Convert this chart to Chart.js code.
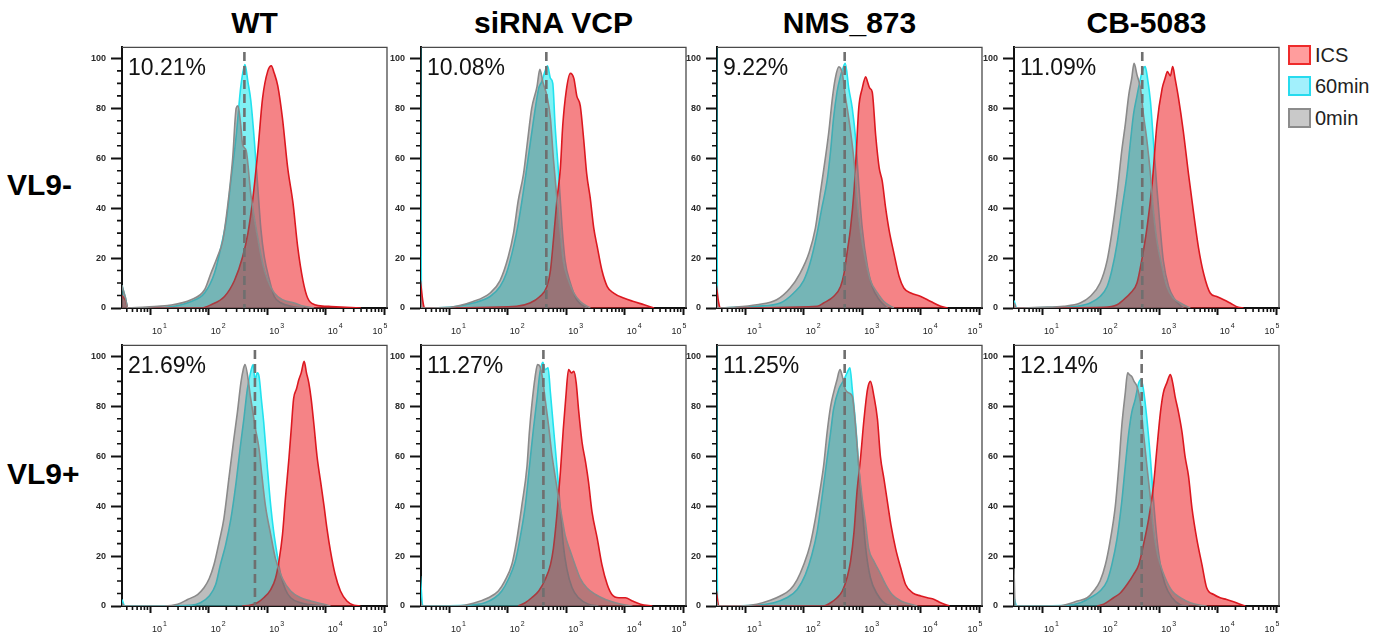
<!DOCTYPE html>
<html><head><meta charset="utf-8">
<script src="https://cdn.jsdelivr.net/npm/chart.js@4.4.0/dist/chart.umd.min.js"></script>
<style>
body{margin:0;background:#fff;width:1389px;height:633px;overflow:hidden;position:relative;font-family:"Liberation Sans",Arial,sans-serif;}
canvas{position:absolute;}
.title{position:absolute;font-weight:bold;font-size:30px;line-height:30px;text-align:center;color:#000;white-space:nowrap;}
.rowlab{position:absolute;font-weight:bold;font-size:30px;line-height:30px;color:#000;white-space:nowrap;}
.leg{position:absolute;left:1288px;font-size:20px;line-height:20px;color:#222;white-space:nowrap;}
.leg span.sw{position:absolute;left:0;top:0;width:19px;height:16px;border:2px solid;}
.leg span.tx{position:absolute;left:27px;top:0;}
</style></head><body>
<script>
// ---------- labels ----------
const conditions = ['WT', 'siRNA VCP', 'NMS_873', 'CB-5083'];
const rowLabels = ['VL9-', 'VL9+'];
const seriesNames = ['ICS', '60min', '0min'];
const percents = [['10.21%', '10.08%', '9.22%', '11.09%'], ['21.69%', '11.27%', '11.25%', '12.14%']];
const markerLog = [[2.61, 2.66, 2.70, 2.71], [2.79, 2.61, 2.70, 2.70]];
const xTickExponents = [1, 2, 3, 4, 5];
const yTicks = [0, 20, 40, 60, 80, 100];

// ---------- histograms: [log10 intensity, % of max] ----------
// VL9- / WT
const negWT_ICS = [[0.52,5],[0.58,3],[0.62,0],[1.87,0],[2.04,1.3],[2.27,4.6],[2.44,11],[2.58,20.5],[2.67,30],[2.75,43],[2.84,63],[2.92,84],[3.01,95],[3.07,97],[3.12,94],[3.18,89],[3.26,76],[3.35,56],[3.44,42],[3.52,24.5],[3.61,11],[3.69,4],[3.81,1.3],[3.98,0.7],[4.09,0.6],[4.6,0]];
const negWT_60 = [[0.52,9],[0.58,4],[0.62,0],[1.07,0],[1.41,0.7],[1.70,2.6],[1.93,6],[2.10,14],[2.21,24.5],[2.30,35],[2.38,51],[2.47,69],[2.55,89],[2.62,97.5],[2.67,90.6],[2.72,83],[2.78,67],[2.84,48],[2.89,32],[2.95,20.5],[3.04,11],[3.12,4.6],[3.24,2],[3.41,0.7],[3.63,0]];
const negWT_0 = [[0.52,9],[0.58,4],[0.62,0],[1.13,0.7],[1.30,1],[1.70,3.3],[1.93,7.3],[2.04,14],[2.15,20.5],[2.24,27],[2.32,40],[2.41,60],[2.47,80],[2.50,81],[2.54,75],[2.58,65.5],[2.64,63],[2.72,45.6],[2.78,36],[2.84,28],[2.92,18],[3.01,11],[3.12,6],[3.26,3.3],[3.46,2],[3.63,0.7],[3.8,0]];
// VL9- / siRNA VCP
const negSi_ICS = [[0.51,11],[0.55,3],[0.58,0],[2.15,0.7],[2.38,2],[2.55,4.6],[2.67,8.6],[2.73,15],[2.78,27],[2.84,43],[2.90,56],[2.94,73],[3.00,87],[3.07,94],[3.13,92],[3.18,85],[3.24,81],[3.30,67],[3.35,53.6],[3.41,44],[3.47,32],[3.53,24.5],[3.61,15],[3.70,8.6],[3.81,6],[3.98,4],[4.15,2.6],[4.33,1.3],[4.50,0]];
const negSi_60 = [[0.51,110],[0.53,0],[1.01,0.3],[1.41,2],[1.70,4.6],[1.87,8.6],[1.98,14],[2.10,24.5],[2.18,33.7],[2.27,47],[2.35,60],[2.44,75],[2.53,88],[2.58,90.6],[2.64,95],[2.68,97],[2.73,92],[2.77,90],[2.81,73],[2.87,53.6],[2.93,32],[2.98,19],[3.07,10],[3.18,3.3],[3.35,0]];
const negSi_0 = [[0.51,3],[0.53,0],[1.01,0.3],[1.41,2.6],[1.70,6],[1.87,11],[2.01,20.5],[2.10,30],[2.18,43],[2.27,53.6],[2.34,67],[2.41,80],[2.50,88.6],[2.55,95.6],[2.60,90.6],[2.67,85],[2.73,76],[2.78,60],[2.84,44],[2.90,30],[2.95,19],[3.04,11],[3.13,6],[3.24,2.6],[3.41,0]];
// VL9- / NMS_873
const negNMS_ICS = [[0.51,9],[0.55,2],[0.58,0],[2.23,0.7],[2.34,2],[2.51,4.6],[2.63,8.6],[2.69,14],[2.74,22],[2.80,32],[2.86,47],[2.90,63],[2.94,80],[3.00,88],[3.06,92.6],[3.09,90.6],[3.13,88],[3.17,86.6],[3.23,69],[3.29,56],[3.34,51],[3.40,40],[3.46,31],[3.54,22],[3.63,12.6],[3.71,8],[3.83,6],[4.00,4.6],[4.17,2.6],[4.34,0.7],[4.46,0]];
const negNMS_60 = [[0.51,110],[0.53,0],[0.91,0.3],[1.20,0.7],[1.60,2],[1.83,6],[2.00,11],[2.11,18],[2.23,30],[2.31,40],[2.40,51],[2.46,63],[2.51,76],[2.57,86.6],[2.63,93],[2.67,96],[2.71,98],[2.77,88],[2.83,80],[2.89,67],[2.94,49.6],[3.00,32],[3.09,16.5],[3.17,8.6],[3.29,3.3],[3.43,0]];
const negNMS_0 = [[0.51,3],[0.53,0],[0.80,0.3],[1.20,1.3],[1.54,3.3],[1.77,8],[1.94,14],[2.09,22],[2.20,32],[2.29,47],[2.37,60],[2.43,70.7],[2.49,84],[2.54,92],[2.60,96.6],[2.66,94],[2.71,85],[2.77,76],[2.86,58.8],[2.91,44],[2.97,31],[3.06,19],[3.14,11],[3.26,6],[3.37,2.6],[3.54,0]];
// VL9- / CB-5083
const negCB_ICS = [[0.52,2],[0.55,0],[2.05,0.3],[2.28,1.3],[2.39,3.3],[2.51,6],[2.62,10],[2.70,19],[2.79,32],[2.88,50],[2.96,73.5],[3.05,88],[3.10,92],[3.14,94.7],[3.19,93],[3.23,96.7],[3.27,92],[3.33,84],[3.41,71],[3.50,53.6],[3.59,37.5],[3.67,24.2],[3.76,13.6],[3.87,6],[3.98,4.6],[4.10,3.3],[4.21,2],[4.35,0.3],[4.44,0]];
const negCB_60 = [[0.52,3],[0.57,0],[1.26,0.3],[1.60,0.7],[1.82,2],[1.99,4.6],[2.11,8.6],[2.19,15],[2.28,25.8],[2.36,39],[2.45,53.6],[2.51,67],[2.56,77.5],[2.62,85],[2.68,92],[2.72,95.4],[2.76,96.7],[2.80,92],[2.85,82.8],[2.90,67],[2.96,48],[3.02,31],[3.07,19],[3.16,8.6],[3.27,3.3],[3.41,0]];
const negCB_0 = [[0.52,2],[0.55,0],[0.97,0.3],[1.37,0.7],[1.65,2],[1.82,4.6],[1.99,10],[2.11,19],[2.19,30],[2.28,45.7],[2.36,63],[2.42,73.5],[2.48,85.4],[2.53,92],[2.57,98],[2.62,93.4],[2.68,88],[2.73,77.5],[2.79,67],[2.85,53.6],[2.90,39],[2.96,27],[3.05,16.3],[3.13,8.6],[3.24,4],[3.36,2],[3.53,0]];
// VL9+ / WT
const posWT_ICS = [[2.57,0],[2.72,0.4],[2.83,1.3],[2.94,3.3],[3.06,6.6],[3.14,11],[3.20,18],[3.26,28.5],[3.31,43],[3.37,59],[3.41,71],[3.45,83],[3.50,87],[3.54,90.7],[3.58,93.4],[3.63,98],[3.67,93.4],[3.71,89.4],[3.75,83],[3.80,72],[3.85,60],[3.91,50],[3.97,40],[4.02,31],[4.08,22],[4.16,12.6],[4.25,6],[4.36,2],[4.48,0.3],[4.59,0]];
const posWT_60 = [[0.52,2.6],[0.57,0],[1.69,0.3],[1.86,1.3],[2.01,4],[2.12,8.6],[2.20,16.5],[2.29,24.5],[2.38,35],[2.46,48],[2.55,65.6],[2.60,74.8],[2.66,86.8],[2.72,94],[2.76,96.7],[2.79,90.7],[2.83,93.4],[2.86,92],[2.90,82.8],[2.94,73.5],[3.00,56],[3.06,40],[3.11,29.8],[3.17,20.5],[3.23,12.6],[3.31,6.6],[3.40,3.3],[3.57,1.3],[3.97,0]];
const posWT_0 = [[0.52,1],[0.56,0],[1.24,0],[1.47,0.7],[1.64,2.6],[1.81,4.6],[1.92,7.3],[2.01,11],[2.09,16.5],[2.18,25.8],[2.26,35],[2.35,52],[2.43,67],[2.49,77.5],[2.55,89.4],[2.59,94.7],[2.62,96.7],[2.72,82.8],[2.80,70.9],[2.86,63],[2.91,52],[2.97,40],[3.06,28.5],[3.14,19],[3.26,11],[3.40,6],[3.57,3.3],[3.74,2],[3.97,0.7],[4.08,0]];
// VL9+ / siRNA VCP
const posSi_ICS = [[2.18,0],[2.30,1.3],[2.41,3.3],[2.53,6],[2.64,10.6],[2.73,16.5],[2.78,23],[2.84,36.4],[2.90,53.6],[2.95,71],[2.99,82.8],[3.04,94.7],[3.09,93.4],[3.13,94],[3.17,89.4],[3.21,78.8],[3.27,65.6],[3.33,57.6],[3.38,49.7],[3.44,37.7],[3.53,27],[3.61,16.5],[3.70,8.6],[3.78,4.6],[3.90,3.3],[4.01,3.3],[4.13,2],[4.27,0.7],[4.47,0]];
const posSi_60 = [[0.51,12],[0.55,0],[1.33,0.3],[1.61,1.3],[1.78,3.3],[1.90,6],[2.01,10.6],[2.13,17.9],[2.21,27],[2.30,40],[2.38,57.6],[2.44,71],[2.50,82.8],[2.55,93.4],[2.60,97.6],[2.64,94.7],[2.69,95.4],[2.73,85.4],[2.78,72],[2.84,56],[2.90,39],[2.95,24.5],[3.01,15],[3.10,7.3],[3.21,3.3],[3.38,0.7],[3.55,0]];
const posSi_0 = [[0.51,2],[0.54,0],[1.15,0],[1.44,1.3],[1.67,3.3],[1.84,6],[1.95,10],[2.07,16.5],[2.15,25.8],[2.24,40],[2.33,56],[2.37,69.5],[2.41,80],[2.47,92],[2.51,96.7],[2.55,96],[2.59,92],[2.64,82.8],[2.70,72],[2.75,61.6],[2.81,52],[2.87,43],[2.93,35],[2.98,28.5],[3.07,21.9],[3.15,16.5],[3.24,11],[3.35,7.3],[3.50,4.6],[3.67,2.6],[3.84,1.3],[4.01,0.4],[4.13,0]];
// VL9+ / NMS_873
const posNMS_ICS = [[0.51,6],[0.55,0],[2.34,0],[2.46,1.3],[2.57,3.3],[2.66,6],[2.74,11.3],[2.80,17.9],[2.86,29.8],[2.91,45.7],[2.97,59],[3.03,74.8],[3.09,86.8],[3.14,90],[3.20,84],[3.26,74.8],[3.31,60],[3.37,51],[3.43,41.7],[3.49,32.5],[3.57,23],[3.66,15],[3.74,8.6],[3.86,5.3],[4.00,4],[4.11,3.3],[4.23,2.6],[4.34,1.3],[4.49,0]];
const posNMS_60 = [[0.51,110],[0.53,0],[1.20,0.3],[1.49,1.3],[1.71,3.3],[1.89,6.6],[2.03,12.6],[2.14,20.5],[2.23,29.8],[2.31,43],[2.40,59],[2.46,69.5],[2.51,78.8],[2.60,86.8],[2.69,90.7],[2.74,93.4],[2.79,95.4],[2.83,86.8],[2.89,72],[2.94,56],[3.00,39],[3.06,23],[3.14,11.3],[3.26,4.6],[3.43,0.5],[3.60,0]];
const posNMS_0 = [[0.51,2],[0.54,0],[0.91,0],[1.20,0.7],[1.43,2.3],[1.60,4],[1.77,6.6],[1.89,10.6],[2.00,16.5],[2.11,24.5],[2.20,35],[2.29,48],[2.34,56],[2.40,69.5],[2.46,80],[2.51,85.4],[2.57,90.7],[2.62,94.7],[2.66,92],[2.71,86.8],[2.77,85.4],[2.83,84],[2.89,70.9],[2.94,56],[3.00,43],[3.06,32.5],[3.11,23],[3.20,17.9],[3.29,13.9],[3.40,8.6],[3.51,4.6],[3.66,2],[3.83,0.7],[3.94,0]];
// VL9+ / CB-5083
const posCB_ICS = [[1.94,0],[2.05,0.7],[2.22,3.3],[2.34,5.3],[2.45,8.6],[2.56,12.6],[2.65,16.5],[2.73,24.5],[2.82,35],[2.90,48],[2.96,63],[3.02,77.5],[3.07,85.4],[3.13,89.4],[3.19,92.7],[3.23,89.4],[3.27,84],[3.33,77.5],[3.39,69.5],[3.44,60],[3.50,52],[3.56,39],[3.64,27],[3.73,16.5],[3.81,7.3],[3.93,4.6],[4.04,3.3],[4.15,2.6],[4.27,1.7],[4.38,0.7],[4.47,0]];
const posCB_60 = [[0.52,3.3],[0.57,0],[1.43,0.3],[1.65,1.3],[1.82,3.3],[1.99,6],[2.11,10],[2.19,16.5],[2.28,27],[2.36,41.7],[2.42,56],[2.48,69.5],[2.53,77.5],[2.59,82.8],[2.65,89.4],[2.69,90.7],[2.73,86.8],[2.79,74.8],[2.85,59],[2.90,43],[2.96,27],[3.02,16.5],[3.10,8.6],[3.22,3.3],[3.36,0.5],[3.5,0]];
const posCB_0 = [[0.52,15],[0.54,0],[1.26,0],[1.43,0.7],[1.60,2],[1.77,3.3],[1.88,6],[1.99,10],[2.08,16.5],[2.16,25.8],[2.25,40],[2.31,56],[2.36,72],[2.42,85.4],[2.46,93.4],[2.49,92.7],[2.53,92],[2.57,90],[2.62,88],[2.68,81.5],[2.73,69.5],[2.79,56],[2.85,43],[2.90,31],[2.96,21.9],[3.02,16.5],[3.10,11.3],[3.22,6],[3.36,3.3],[3.53,1.3],[3.70,0.3],[3.81,0]];

const panelData = [
  [[negWT_ICS, negWT_60, negWT_0], [negSi_ICS, negSi_60, negSi_0], [negNMS_ICS, negNMS_60, negNMS_0], [negCB_ICS, negCB_60, negCB_0]],
  [[posWT_ICS, posWT_60, posWT_0], [posSi_ICS, posSi_60, posSi_0], [posNMS_ICS, posNMS_60, posNMS_0], [posCB_ICS, posCB_60, posCB_0]]
];

// ---------- styling / layout ----------
const FONT = '"Liberation Sans", Arial, Helvetica, sans-serif';
// order: higher = drawn earlier (below)
const seriesStyle = [
  {line: '#dc1820', fill: 'rgba(238,34,40,0.56)', order: 1, swFill: '#ff9d9d', swLine: '#ee2b2b'},
  {line: '#22e2ee', fill: 'rgba(0,228,234,0.5)', order: 2, swFill: '#a2f0fc', swLine: '#27dbee'},
  {line: '#8a8a8a', fill: 'rgba(105,105,105,0.44)', order: 0, swFill: '#c9c9c9', swLine: '#8c8c8c'}
];
const colLeft = [122, 421, 717, 1014];
const rowTop = [45, 343];
const PW = 265, PH = 263, YW = 40, PADT = 8, PADR = 12, XH = 30;
const X_MIN = 0.52, X_MAX = 5.045, Y_MAX = 104.4;

const panelPlugin = {
  id: 'panelDecor',
  afterDatasetsDraw(chart) {
    const {ctx, chartArea: a, scales: {x, y}} = chart;
    const o = chart.options.plugins.panelDecor;
    ctx.save();
    // dashed marker
    ctx.beginPath();
    ctx.setLineDash([9, 5]);
    ctx.lineWidth = 2.6;
    ctx.strokeStyle = '#6f6f6f';
    const mx = x.getPixelForValue(o.marker);
    ctx.moveTo(mx, y.getPixelForValue(102.6));
    ctx.lineTo(mx, y.getPixelForValue(0));
    ctx.stroke();
    ctx.setLineDash([]);
    // frame top/right
    ctx.strokeStyle = '#4a4a4a';
    ctx.lineWidth = 1.3;
    ctx.beginPath();
    ctx.moveTo(a.left, a.top); ctx.lineTo(a.right, a.top); ctx.lineTo(a.right, a.bottom);
    ctx.stroke();
    // minor ticks x
    ctx.strokeStyle = '#111';
    ctx.lineWidth = 1.6;
    ctx.beginPath();
    for (let k = 0; k < 5; k++) {
      for (let m = 2; m <= 9; m++) {
        const v = k + Math.log10(m);
        if (v < X_MIN || v > X_MAX) continue;
        const px = x.getPixelForValue(v);
        ctx.moveTo(px, a.bottom); ctx.lineTo(px, a.bottom + 4);
      }
    }
    // minor ticks y
    for (let v = 5; v < 100; v += 5) {
      if (v % 20 === 0) continue;
      const py = y.getPixelForValue(v);
      ctx.moveTo(a.left, py); ctx.lineTo(a.left - 5, py);
    }
    ctx.stroke();
    // x labels 10^k
    ctx.fillStyle = '#222';
    ctx.textBaseline = 'alphabetic';
    xTickExponents.forEach(k => {
      const px = x.getPixelForValue(k);
      ctx.font = '9px ' + FONT;
      const w10 = ctx.measureText('10').width;
      ctx.font = '7px ' + FONT;
      const we = ctx.measureText(String(k)).width;
      let sx = px + 2;
      if (k === 5) sx = px + 3 - (w10 + 1 + we);
      ctx.font = '9px ' + FONT;
      ctx.fillText('10', sx, a.bottom + 26);
      ctx.font = '7px ' + FONT;
      ctx.fillText(String(k), sx + w10 + 1, a.bottom + 19.5);
    });
    // percentage
    ctx.font = '23px ' + FONT;
    ctx.fillStyle = '#111';
    ctx.fillText(o.text, a.left + 6, a.top + 28);
    ctx.restore();
  }
};

function addDiv(cls, text, css) {
  const d = document.createElement('div');
  d.className = cls; d.textContent = text;
  Object.assign(d.style, css);
  document.body.appendChild(d);
  return d;
}

conditions.forEach((c, j) => addDiv('title', c, {left: colLeft[j] + 'px', width: PW + 'px', top: '8px'}));
addDiv('rowlab', rowLabels[0], {left: '7px', top: '170px'});
addDiv('rowlab', rowLabels[1], {left: '7px', top: '459px'});
const legTops = [45, 76, 108];
seriesNames.forEach((s, i) => {
  const d = addDiv('leg', '', {top: legTops[i] + 'px'});
  const sw = document.createElement('span'); sw.className = 'sw';
  sw.style.background = seriesStyle[i].swFill; sw.style.borderColor = seriesStyle[i].swLine;
  const tx = document.createElement('span'); tx.className = 'tx'; tx.textContent = s;
  d.appendChild(sw); d.appendChild(tx);
});

for (let r = 0; r < 2; r++) {
  for (let j = 0; j < 4; j++) {
    const cv = document.createElement('canvas');
    const W = YW + PW + PADR, H = PADT + PH + XH;
    cv.width = W; cv.height = H;
    cv.style.left = (colLeft[j] - YW) + 'px';
    cv.style.top = (rowTop[r] - PADT) + 'px';
    cv.style.width = W + 'px'; cv.style.height = H + 'px';
    document.body.appendChild(cv);
    const datasets = panelData[r][j].map((arr, i) => ({
      label: seriesNames[i],
      data: arr.map(p => ({x: p[0], y: p[1]})),
      borderColor: seriesStyle[i].line,
      backgroundColor: seriesStyle[i].fill,
      borderWidth: 1.6,
      fill: 'origin',
      order: seriesStyle[i].order,
      pointRadius: 0,
      cubicInterpolationMode: 'monotone'
    }));
    new Chart(cv, {
      type: 'line',
      data: {datasets},
      options: {
        responsive: false, animation: false, devicePixelRatio: 1,
        layout: {padding: {top: PADT, right: PADR, left: 0, bottom: 0}},
        plugins: {legend: {display: false}, tooltip: {enabled: false},
                  panelDecor: {marker: markerLog[r][j], text: percents[r][j]}},
        scales: {
          x: {type: 'linear', min: X_MIN, max: X_MAX,
              afterBuildTicks: s => { s.ticks = xTickExponents.map(v => ({value: v})); },
              afterFit: s => { s.height = XH; },
              ticks: {display: false},
              grid: {drawOnChartArea: false, drawTicks: true, tickLength: 7, tickWidth: 2, tickColor: '#111'},
              border: {display: true, color: '#111', width: 2}},
          y: {type: 'linear', min: 0, max: Y_MAX,
              afterBuildTicks: s => { s.ticks = yTicks.map(v => ({value: v})); },
              afterFit: s => { s.width = YW; },
              ticks: {font: {size: 9, weight: 'bold', family: FONT}, color: '#2a2a2a', padding: 5},
              grid: {drawOnChartArea: false, drawTicks: true, tickLength: 11, tickWidth: 2, tickColor: '#111'},
              border: {display: true, color: '#111', width: 2}}
        }
      },
      plugins: [panelPlugin]
    });
  }
}
</script>
</body></html>
